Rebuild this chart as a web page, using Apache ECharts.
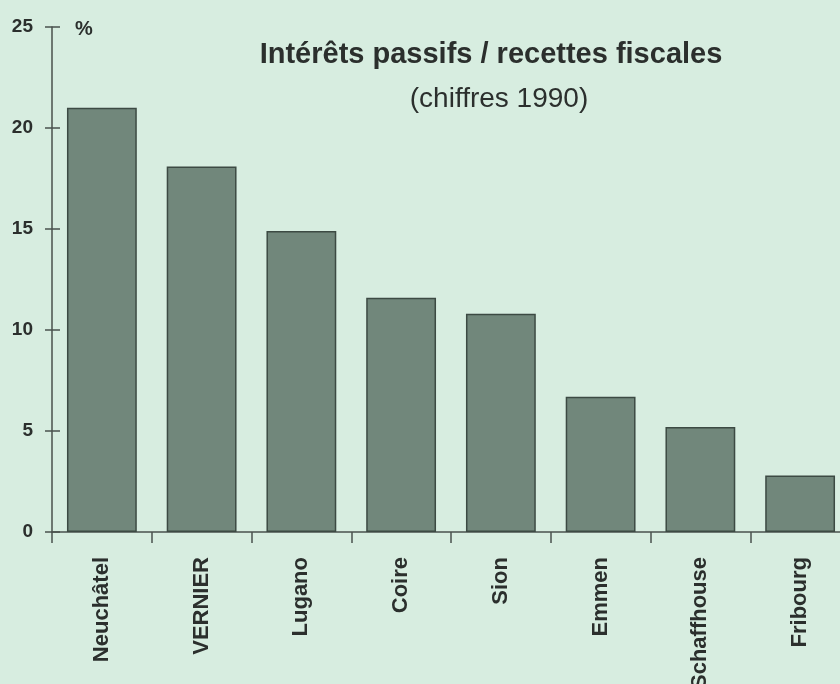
<!DOCTYPE html>
<html>
<head>
<meta charset="utf-8">
<script src="https://cdn.jsdelivr.net/npm/echarts@6/dist/echarts.min.js"></script>
<style>
html,body{margin:0;padding:0;background:#d7ede0;}
#c{width:840px;height:684px;}
</style>
</head>
<body>
<div id="c"></div>
<script>
var categories = ['Neuchâtel', 'VERNIER', 'Lugano', 'Coire', 'Sion', 'Emmen', 'Schaffhouse', 'Fribourg'];
var values = [21.0, 18.1, 14.9, 11.6, 10.8, 6.7, 5.2, 2.8];
var yTicks = [0, 5, 10, 15, 20, 25];
var titleText = 'Intérêts passifs / recettes fiscales';
var subtitleText = '(chiffres 1990)';
var unitText = '%';

var chart = echarts.init(document.getElementById('c'), null, {renderer: 'canvas'});
var font = 'Liberation Sans, Arial, Helvetica, sans-serif';
var axisCol = '#4a514d';
var textCol = '#2b2f2d';
var yMin = yTicks[0], yMax = yTicks[yTicks.length - 1], yInt = yTicks[1] - yTicks[0];

chart.setOption({
  backgroundColor: '#d7ede0',
  animation: false,
  title: [
    {text: titleText, left: 486, top: 35, textAlign: 'center',
     textStyle: {fontFamily: font, fontSize: 29, fontWeight: 'bold', color: textCol}},
    {text: subtitleText, left: 494, top: 80, textAlign: 'center',
     textStyle: {fontFamily: font, fontSize: 28, fontWeight: 'normal', color: textCol}},
    {text: unitText, left: 70, top: 14,
     textStyle: {fontFamily: font, fontSize: 20, fontWeight: 'bold', color: textCol}}
  ],
  grid: {left: 52, top: 27, width: 798, height: 505, containLabel: false, outerBoundsMode: 'none'},
  xAxis: {
    type: 'category',
    data: categories,
    boundaryGap: true,
    axisLine: {show: true, lineStyle: {color: axisCol, width: 1.5}},
    axisTick: {show: true, length: 11, alignWithLabel: false, lineStyle: {color: axisCol, width: 1.5}},
    axisLabel: {rotate: 90, margin: 25, interval: 0, fontFamily: font, fontSize: 22, fontWeight: 'bold', color: textCol}
  },
  yAxis: [
    {
      type: 'value', min: yMin, max: yMax, interval: yInt,
      splitLine: {show: false},
      axisLine: {show: true, lineStyle: {color: axisCol, width: 1.5}},
      axisTick: {show: true, length: 7, lineStyle: {color: axisCol, width: 1.5}},
      axisLabel: {margin: 19, fontFamily: font, fontSize: 19, fontWeight: 'bold', color: textCol}
    },
    {
      type: 'value', min: yMin, max: yMax, interval: yInt, position: 'left', offset: 0,
      splitLine: {show: false},
      axisLine: {show: false},
      axisTick: {show: true, inside: true, length: 8, lineStyle: {color: axisCol, width: 1.5}},
      axisLabel: {show: false}
    }
  ],
  series: [{
    type: 'bar',
    data: values,
    barWidth: '70%',
    itemStyle: {color: '#71877b', borderColor: '#3c4a43', borderWidth: 1.5}
  }]
});
</script>
</body>
</html>
